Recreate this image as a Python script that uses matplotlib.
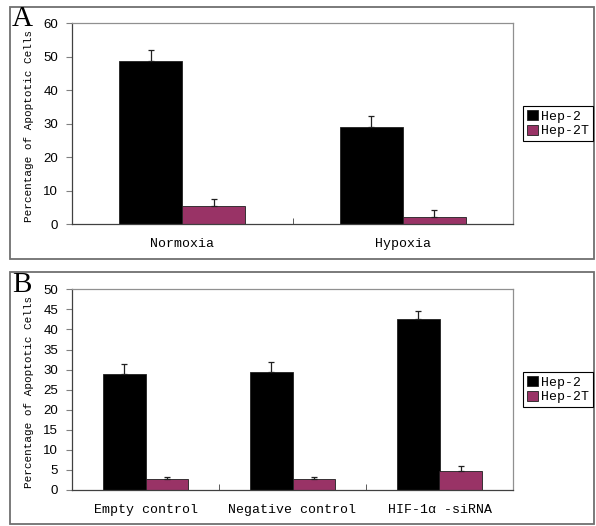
import matplotlib.pyplot as plt
from matplotlib.patches import Rectangle

# panel A
cond_a = ['Normoxia', 'Hypoxia']
hep2_a = [48.7, 29.1]
hep2_err_a = [3.3, 3.3]
hep2t_a = [5.6, 2.3]
hep2t_err_a = [1.9, 1.9]

# panel B
cond_b = ['Empty control', 'Negative control', 'HIF-1\u03b1 -siRNA']
hep2_b = [28.9, 29.3, 42.6]
hep2_err_b = [2.4, 2.7, 2.1]
hep2t_b = [2.8, 2.7, 4.7]
hep2t_err_b = [0.4, 0.5, 1.2]

series_names = ['Hep-2', 'Hep-2T']
colors = ['#000000', '#993366']

W, H = 596, 526
mono = 'Liberation Mono'
sans = 'Liberation Sans'

fig = plt.figure(figsize=(W / 100, H / 100), dpi=100)


def panel(rect, letter, cats, v1, e1, v2, e2, ymax, ystep, frame_y, legend_y):
    # outer frame of the panel
    fx0, fy0, fx1, fy1 = frame_y
    fig.patches.append(Rectangle((fx0 / W, 1 - fy1 / H), (fx1 - fx0) / W, (fy1 - fy0) / H,
                                 transform=fig.transFigure, fill=False,
                                 edgecolor='#707070', linewidth=1.3))
    l, t, r, b = rect
    ax = fig.add_axes([l / W, 1 - b / H, (r - l) / W, (b - t) / H])
    n = len(cats)
    x = list(range(n))
    w = 0.286
    ek = dict(ecolor='#202020', elinewidth=0.9, capsize=2.5, capthick=0.9)
    ax.bar([i - w / 2 for i in x], v1, w, color=colors[0], edgecolor='#202020', linewidth=0.6,
           yerr=[[0] * n, e1], error_kw=ek, label=series_names[0])
    ax.bar([i + w / 2 for i in x], v2, w, color=colors[1], edgecolor='#202020', linewidth=0.6,
           yerr=[[0] * n, e2], error_kw=ek, label=series_names[1])
    ax.set_xlim(-0.5, n - 0.5)
    ax.set_ylim(0, ymax)
    ax.set_yticks(range(0, ymax + 1, ystep))
    ax.set_xticks(x)
    ax.set_xticklabels(cats, fontfamily=mono, fontsize=9.5)
    ax.set_xticks([i + 0.5 for i in range(n - 1)], minor=True)
    ax.tick_params(axis='x', which='major', length=0, pad=10)
    ax.tick_params(axis='x', which='minor', direction='in', length=4, color='#404040')
    ax.tick_params(axis='y', direction='out', length=4, color='#808080', pad=6, labelsize=9.5)
    for lab in ax.get_yticklabels():
        lab.set_fontfamily(sans)
    for s in ['left', 'bottom']:
        ax.spines[s].set_color('#404040')
        ax.spines[s].set_linewidth(0.9)
    for s in ['top', 'right']:
        ax.spines[s].set_color('#909090')
        ax.spines[s].set_linewidth(0.9)
    fig.text(29 / W, 1 - ((t + b) / 2 + 2) / H, 'Percentage of Apoptotic Cells', rotation=90,
             ha='center', va='center', fontfamily=mono, fontsize=7.9)
    fig.text(12 / W, 1 - (t + 3) / H, letter, fontfamily='Liberation Serif', fontsize=21,
             ha='left', va='baseline')
    h, lb = ax.get_legend_handles_labels()
    leg = fig.legend(h, lb, loc='upper left', bbox_to_anchor=(523 / W, 1 - legend_y / H),
                     borderaxespad=0, prop={'family': mono, 'size': 9.5}, fancybox=False,
                     framealpha=1, edgecolor='#000000', handlelength=0.8, handleheight=0.8,
                     handletextpad=0.3, labelspacing=0.15, borderpad=0.3)
    leg.get_frame().set_linewidth(0.8)
    return ax


panel((72, 23.3, 513, 224.3), 'A', cond_a, hep2_a, hep2_err_a, hep2t_a, hep2t_err_a,
      60, 10, (10, 7, 594, 259), 106)
panel((72, 289.3, 513, 490), 'B', cond_b, hep2_b, hep2_err_b, hep2t_b, hep2t_err_b,
      50, 5, (10, 272, 594, 524), 372)

fig.savefig('out.png', dpi=100)
